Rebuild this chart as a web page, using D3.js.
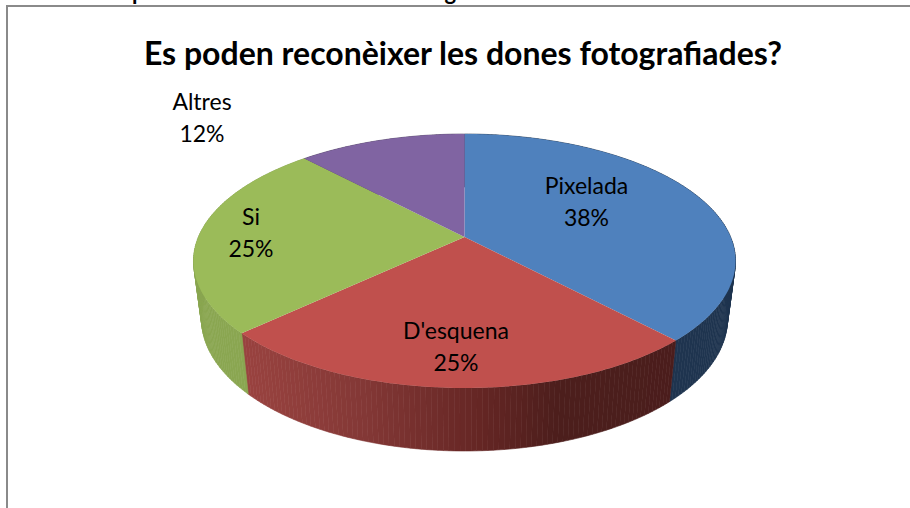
<!DOCTYPE html>
<html lang="ca">
  <head>
    <meta charset="UTF-8" />
    <title>Es poden reconèixer les dones fotografiades?</title>
    <script src="https://d3js.org/d3.v7.min.js"></script>
    <style>
      body {
        margin: 0;
        background: #fff;
        overflow: hidden;
      }

      text {
        font-family: Lato, "Open Sans", sans-serif;
        fill: #000;
      }

      .caption {
        font-size: 22px;
        font-weight: 700;
      }

      .title {
        font-size: 32px;
        font-weight: 700;
      }

      .label {
        font-size: 23px;
      }
    </style>
  </head>
  <body>
    <svg id="chart" width="910" height="508"></svg>

    <script>
      const categories = ["Pixelada", "D'esquena", "Si", "Altres"];
      const values = [38, 25, 25, 12];
      const percentLabels = ["38%", "25%", "25%", "12%"];

      const captionText = "Gràfic 15: Es poden reconèixer les dones fotografiades";
      const titleText = "Es poden reconèixer les dones fotografiades?";

      const width = 910;
      const height = 508;

      // top face: ellipse plus a perspective shift, so the apex sits above the ellipse centre
      const topFace = { cx: 464.5, cy: 261, rx: 271, ry: 127, shift: -0.189 };
      const bottomFace = { cx: 464.5, cy: 319, rx: 263, ry: 132, shift: -0.189 };

      const faceColors = ["#4f81bd", "#c0504d", "#9bbb59", "#8064a2"];

      // wall shading runs left to right, like the banding in the original
      const wallX = [240, 360, 480, 560, 740];
      const wallColors = [
        ["#1f344f", "#1f344f", "#1f344f", "#1f344f", "#1f344f"],
        ["#9a4340", "#843836", "#652624", "#4c1e1c", "#4a1d1c"],
        ["#8aa651", "#83a04b", "#83a04b", "#83a04b", "#83a04b"],
        ["#4c3c62", "#4c3c62", "#4c3c62", "#4c3c62", "#4c3c62"],
      ];

      const labelPlaces = {
        Pixelada: [586.5, 194],
        "D'esquena": [456, 339],
        Si: [251, 225],
        Altres: [202, 110],
      };
      const lineGap = 32;

      const svg = d3.select("#chart");

      svg.append("text").attr("class", "caption").attr("x", 4).attr("y", 0).text(captionText);

      svg
        .append("path")
        .attr("d", `M7 ${height}V6H${width}`)
        .attr("fill", "none")
        .attr("stroke", "#8a8a8a")
        .attr("stroke-width", 2);

      svg
        .append("text")
        .attr("class", "title")
        .attr("x", 463)
        .attr("y", 65)
        .attr("text-anchor", "middle")
        .text(titleText);

      const pie = d3.pie().sort(null).value((d) => d);
      const slices = pie(values);

      function makeProjection(face) {
        const x = d3.scaleLinear().domain([-1, 1]).range([face.cx - face.rx, face.cx + face.rx]);
        const y = d3.scaleLinear().domain([-1, 1]).range([face.cy - face.ry, face.cy + face.ry]);
        const a = face.shift;
        return (angle, r = 1) => {
          const u = Math.sin(angle) * r;
          const v = -Math.cos(angle) * r;
          const w = 1 + a * v;
          return [x((u * Math.sqrt(1 - a * a)) / w), y((v + a) / w)];
        };
      }

      const onTop = makeProjection(topFace);
      const onBottom = makeProjection(bottomFace);

      const stepAngle = Math.PI / 180;
      const anglesOf = (s) => {
        const list = d3.range(s.startAngle, s.endAngle, stepAngle);
        list.push(s.endAngle);
        return list;
      };

      const line = d3.line();

      // walls are narrow vertical bands, each one coloured from its x position
      const walls = svg.append("g");
      slices.forEach((s, i) => {
        const shade = d3.scaleLinear().domain(wallX).range(wallColors[i]).clamp(true);
        const angles = anglesOf(s);
        d3.pairs(angles).forEach(([a0, a1]) => {
          const band = [onTop(a0), onTop(a1), onBottom(a1), onBottom(a0)];
          const color = shade((band[0][0] + band[1][0]) / 2);
          walls
            .append("path")
            .attr("d", line(band) + "Z")
            .attr("fill", color)
            .attr("stroke", color)
            .attr("stroke-width", 0.6);
        });
      });

      // top face on top of the walls
      svg
        .append("g")
        .selectAll("path")
        .data(slices)
        .join("path")
        .attr("d", (s) => line([onTop(0, 0), ...anglesOf(s).map((a) => onTop(a))]) + "Z")
        .attr("fill", (s, i) => faceColors[i]);

      const labels = svg.append("g");
      categories.forEach((name, i) => {
        const [lx, ly] = labelPlaces[name];
        const t = labels.append("text").attr("class", "label").attr("text-anchor", "middle");
        t.append("tspan").attr("x", lx).attr("y", ly).text(name);
        t.append("tspan").attr("x", lx).attr("y", ly + lineGap).text(percentLabels[i]);
      });
    </script>
  </body>
</html>
